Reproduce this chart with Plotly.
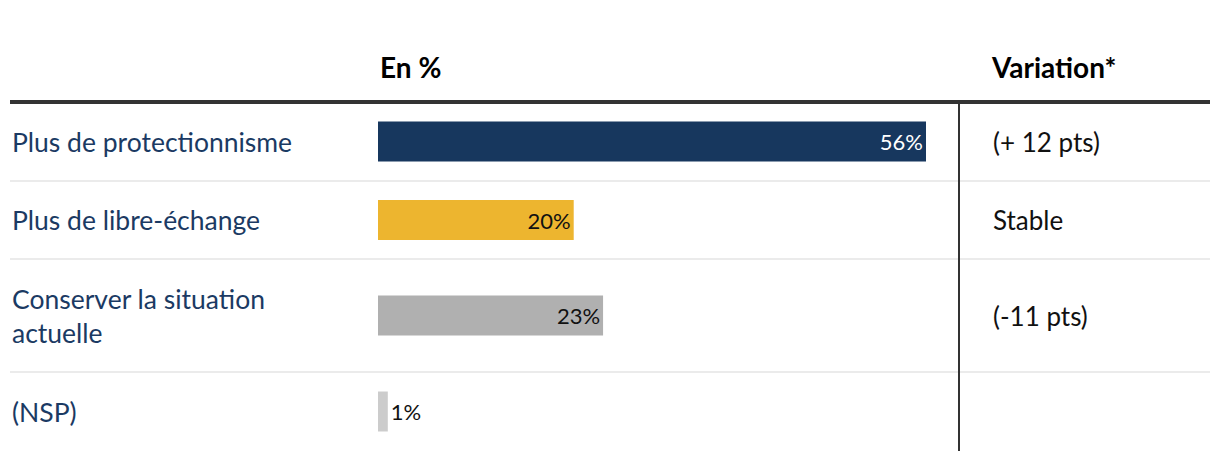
import plotly.graph_objects as go

# ---- data ----
categories = ["Plus de protectionnisme", "Plus de libre-échange",
              "Conserver la situation actuelle", "(NSP)"]
category_labels = ["Plus de protectionnisme", "Plus de libre-échange",
                   "Conserver la situation<br>actuelle", "(NSP)"]
values = [56, 20, 23, 1]
variations = ["(+ 12 pts)", "Stable", "(-11 pts)", ""]
header_value = "En %"
header_variation = "Variation*"

# ---- styles / layout ----
bar_colors = ["#17375e", "#edb52f", "#b0b0b0", "#cccccc"]
text_colors = ["#ffffff", "#111111", "#111111", "#111111"]
text_positions = ["inside", "inside", "inside", "outside"]
label_color = "#1b3a63"
FONT = "Lato, 'Source Sans Pro', sans-serif"

PAGE_OFF = 8            # default body margin of the html page
W, H = 1220 - PAGE_OFF, 460 - PAGE_OFF
header_bottom = 102
row_heights = [79, 78, 113, 79]
bar_thickness = 40
bar_left_px = 378
px_per_unit = 548 / 56
left_px, right_px = 10, 1210
vline_px = 959
var_px = 991

tops = []
t = header_bottom
for h in row_heights:
    tops.append(t)
    t += h
centers = [tp + h / 2 for tp, h in zip(tops, row_heights)]

fig = go.Figure()
fig.add_trace(go.Bar(
    x=values, y=centers, orientation="h", width=bar_thickness,
    marker=dict(color=bar_colors, line=dict(width=0)),
    text=[f"{v}%" for v in values], textposition=text_positions,
    insidetextanchor="end", constraintext="none",
    textfont=dict(family=FONT, size=22, color=text_colors),
    cliponaxis=False, hoverinfo="skip",
))

def px(xp):
    return (xp - PAGE_OFF) / W

fig.update_xaxes(domain=[px(bar_left_px), 1],
                 range=[0, (W + PAGE_OFF - bar_left_px) / px_per_unit],
                 visible=False, fixedrange=True)
# y axis in page-pixel units (shifted by the page margin)
fig.update_yaxes(domain=[0, 1], range=[H + PAGE_OFF, PAGE_OFF], visible=False, fixedrange=True)

shapes = []
for tp in tops[1:]:
    shapes.append(dict(type="line", xref="paper", yref="y", x0=px(left_px), x1=px(right_px),
                       y0=tp, y1=tp, line=dict(color="#ebebeb", width=2), layer="below"))
shapes.append(dict(type="line", xref="paper", yref="y", x0=px(left_px), x1=px(right_px),
                   y0=header_bottom, y1=header_bottom, line=dict(color="#333333", width=4)))
shapes.append(dict(type="line", xref="paper", yref="y", x0=px(vline_px), x1=px(vline_px),
                   y0=header_bottom, y1=t, line=dict(color="#333333", width=2)))

annotations = []
annotations.append(dict(text=f"<b>{header_value}</b>", xref="paper", yref="y",
                        x=px(bar_left_px), y=67, xanchor="left", yanchor="middle",
                        showarrow=False, font=dict(family=FONT, size=28, color="#000000")))
annotations.append(dict(text=f"<b>{header_variation}</b>", xref="paper", yref="y",
                        x=px(var_px - 2), y=67, xanchor="left", yanchor="middle",
                        showarrow=False, font=dict(family=FONT, size=28, color="#000000")))
for lab, c, var in zip(category_labels, centers, variations):
    annotations.append(dict(text=lab, xref="paper", yref="y", x=px(left_px), y=c,
                            xanchor="left", yanchor="middle", align="left", showarrow=False,
                            font=dict(family=FONT, size=26.5, color=label_color)))
    if var:
        annotations.append(dict(text=var, xref="paper", yref="y", x=px(var_px), y=c,
                                xanchor="left", yanchor="middle", showarrow=False,
                                font=dict(family=FONT, size=26, color="#111111")))

fig.update_layout(
    width=W, height=H, margin=dict(l=0, r=0, t=0, b=0),
    paper_bgcolor="white", plot_bgcolor="white",
    showlegend=False, shapes=shapes, annotations=annotations,
    font=dict(family=FONT),
)

fig.write_html("out.html", config={"displayModeBar": False})
